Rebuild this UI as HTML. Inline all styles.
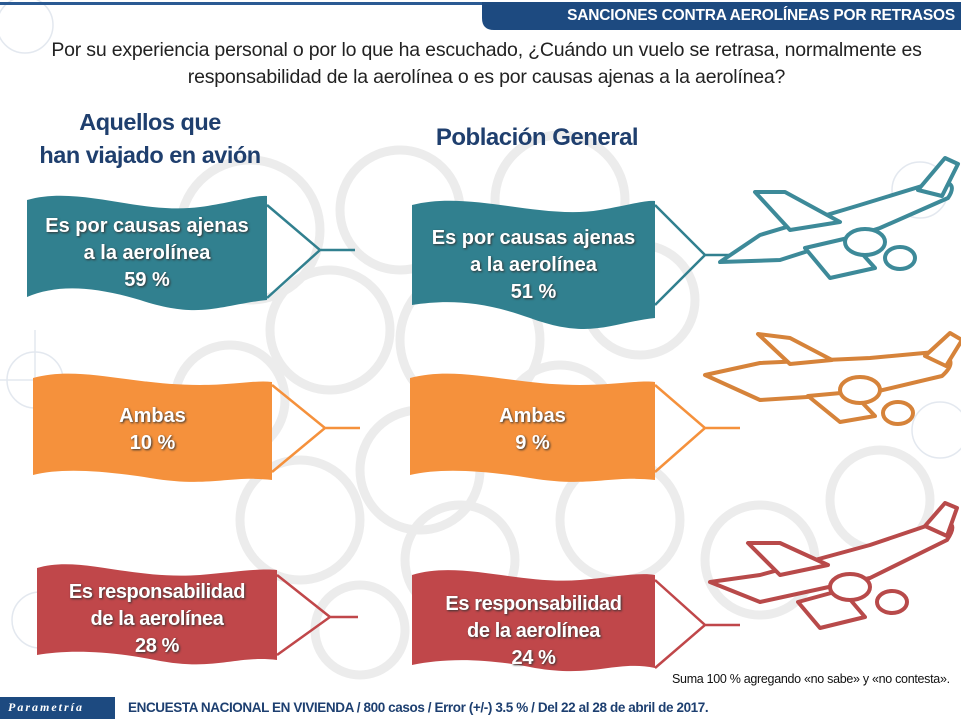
<!DOCTYPE html>
<html><head><meta charset="utf-8"><style>
body{margin:0;width:961px;height:721px;overflow:hidden;background:#fff;font-family:"Liberation Sans",sans-serif;position:relative}
.a{position:absolute;white-space:nowrap}
.bt{color:#fff;font-weight:bold;text-align:center;font-size:20px;line-height:27px;text-shadow:1px 1px 2px #333}
</style></head><body>
<svg width="961" height="721" style="position:absolute;left:0;top:0">
<g fill="none" stroke="#ececec" stroke-width="9">
<circle cx="250" cy="230" r="70"/><circle cx="400" cy="210" r="60"/><circle cx="560" cy="200" r="65"/><circle cx="330" cy="330" r="60"/><circle cx="470" cy="340" r="70"/><circle cx="640" cy="300" r="55"/><circle cx="230" cy="400" r="55"/><circle cx="420" cy="470" r="60"/><circle cx="560" cy="420" r="55"/><circle cx="300" cy="520" r="60"/><circle cx="460" cy="560" r="55"/><circle cx="620" cy="520" r="60"/><circle cx="760" cy="560" r="55"/><circle cx="880" cy="500" r="50"/><circle cx="360" cy="630" r="45"/>
</g>
<g fill="none" stroke="#e3e8ef" stroke-width="1.5">
<circle cx="25" cy="25" r="28"/><circle cx="35" cy="380" r="28"/><circle cx="40" cy="620" r="28"/><circle cx="920" cy="190" r="28"/><circle cx="940" cy="430" r="28"/><line x1="0" y1="380" x2="80" y2="380"/><line x1="35" y1="330" x2="35" y2="430"/>
</g>
<rect x="0" y="2" width="961" height="3" fill="#2a5a93"/>
<path d="M482 2 H961 V30 H494 Q482 30 482 18 Z" fill="#1d4a80"/>
<g fill="#31808f">
<path d="M27 200 C80 185 140 215 200 207 C230 203 255 195 267 196 V300 C220 305 200 320 140 300 C90 285 55 285 27 297 Z"/>
<path d="M412 205 C470 190 540 220 600 210 C625 206 645 200 655 201 V318 C610 323 590 340 530 318 C480 300 445 300 412 305 Z"/>
</g>
<g fill="#f5913c">
<path d="M33 378 C80 365 130 385 200 385 C235 385 255 380 272 382 V480 C230 475 210 488 150 478 C100 470 60 468 33 475 Z"/>
<path d="M410 378 C460 365 510 385 580 385 C615 385 640 380 655 382 V480 C610 475 590 488 530 478 C480 470 440 468 410 475 Z"/>
</g>
<g fill="#c0474a">
<path d="M37 568 C80 555 130 580 200 575 C235 572 260 568 277 570 V660 C235 655 215 672 155 660 C105 650 65 650 37 655 Z"/>
<path d="M412 575 C460 560 520 585 580 580 C615 577 640 572 655 575 V668 C615 660 595 678 535 668 C485 658 445 658 412 665 Z"/>
</g>
<g fill="none" stroke-width="2.5">
<path d="M267 205 L320 250 L267 298 M320 250 H355" stroke="#31808f"/>
<path d="M655 205 L705 255 L655 305 M705 255 H740" stroke="#31808f"/>
<path d="M272 385 L325 428 L272 472 M325 428 H360" stroke="#f5913c"/>
<path d="M655 385 L705 428 L655 472 M705 428 H740" stroke="#f5913c"/>
<path d="M277 575 L330 617 L277 655 M330 617 H358" stroke="#c0474a"/>
<path d="M655 580 L705 625 L655 668 M705 625 H740" stroke="#c0474a"/>
</g>
<g stroke-width="4" fill="#fff" stroke-linejoin="round">
<g stroke="#3d8a99">
<path d="M720 262 L760 235 L860 205 L935 182 Q960 180 948 198 L880 228 L780 260 Z"/>
<path d="M790 230 L755 192 L785 192 L840 222 Z"/><path d="M805 248 L830 278 L875 268 L848 238 Z"/>
<ellipse cx="865" cy="242" rx="20" ry="13"/><ellipse cx="900" cy="258" rx="15" ry="11"/>
<path d="M918 190 L945 158 L958 164 L942 196 Z"/>
</g>
<g stroke="#d6833a">
<path d="M705 375 L760 363 L870 358 L935 352 Q962 358 942 376 L870 393 L760 400 Z"/>
<path d="M790 364 L758 334 L790 338 L832 360 Z"/><path d="M808 396 L840 422 L875 416 L852 392 Z"/>
<ellipse cx="860" cy="390" rx="20" ry="13"/><ellipse cx="898" cy="413" rx="15" ry="11"/>
<path d="M925 356 L950 333 L962 340 L946 366 Z"/>
</g>
<g stroke="#b84a4a">
<path d="M710 582 L760 575 L870 545 L935 523 Q962 518 947 540 L870 578 L760 602 Z"/>
<path d="M780 575 L748 543 L780 543 L828 565 Z"/><path d="M798 602 L820 628 L865 617 L842 590 Z"/>
<ellipse cx="850" cy="587" rx="20" ry="13"/><ellipse cx="892" cy="602" rx="15" ry="11"/>
<path d="M925 526 L945 503 L957 508 L947 536 Z"/>
</g>
</g>
<rect x="0" y="697" width="115" height="22" fill="#1d4a80"/>
</svg>
<div class="a" style="left:480px;top:7px;width:475px;text-align:right;color:#fff;font-weight:bold;font-size:15.5px;letter-spacing:-0.2px">SANCIONES CONTRA AEROLÍNEAS POR RETRASOS</div>
<div class="a" style="left:0;top:37px;width:973px;text-align:center;color:#222;font-size:19.5px;line-height:27px;letter-spacing:-0.2px">Por su experiencia personal o por lo que ha escuchado, ¿Cuándo un vuelo se retrasa, normalmente es<br>responsabilidad de la aerolínea o es por causas ajenas a la aerolínea?</div>
<div class="a" style="left:0;top:106px;width:300px;text-align:center;color:#1f3f6e;font-weight:bold;font-size:23.5px;line-height:33px;letter-spacing:-0.5px">Aquellos que<br>han viajado en avión</div>
<div class="a" style="left:382px;top:124px;width:310px;text-align:center;color:#1f3f6e;font-weight:bold;font-size:24px;letter-spacing:-0.5px">Población General</div>
<div class="a bt" style="left:27px;top:213px;width:240px">Es por causas ajenas<br>a la aerolínea<br>59 %</div>
<div class="a bt" style="left:412px;top:225px;width:243px">Es por causas ajenas<br>a la aerolínea<br>51 %</div>
<div class="a bt" style="left:33px;top:403px;width:239px">Ambas<br>10 %</div>
<div class="a bt" style="left:410px;top:403px;width:245px">Ambas<br>9 %</div>
<div class="a bt" style="left:37px;top:579px;width:240px;letter-spacing:-0.4px">Es responsabilidad<br>de la aerolínea<br>28 %</div>
<div class="a bt" style="left:412px;top:591px;width:243px;letter-spacing:-0.4px">Es responsabilidad<br>de la aerolínea<br>24 %</div>
<div class="a" style="left:672px;top:672px;font-size:12.5px;color:#111;letter-spacing:-0.3px">Suma 100 %  agregando «no sabe» y «no contesta».</div>
<div class="a" style="left:8px;top:700px;color:#fff;font-style:italic;font-weight:bold;font-size:12px;letter-spacing:2px;font-family:'Liberation Serif',serif">Parametría</div>
<div class="a" style="left:128px;top:700px;color:#1d3f70;font-weight:bold;font-size:13.5px;letter-spacing:-0.4px">ENCUESTA NACIONAL EN VIVIENDA / 800 casos / Error (+/-) 3.5 % / Del 22 al 28 de abril de 2017.</div>
</body></html>
